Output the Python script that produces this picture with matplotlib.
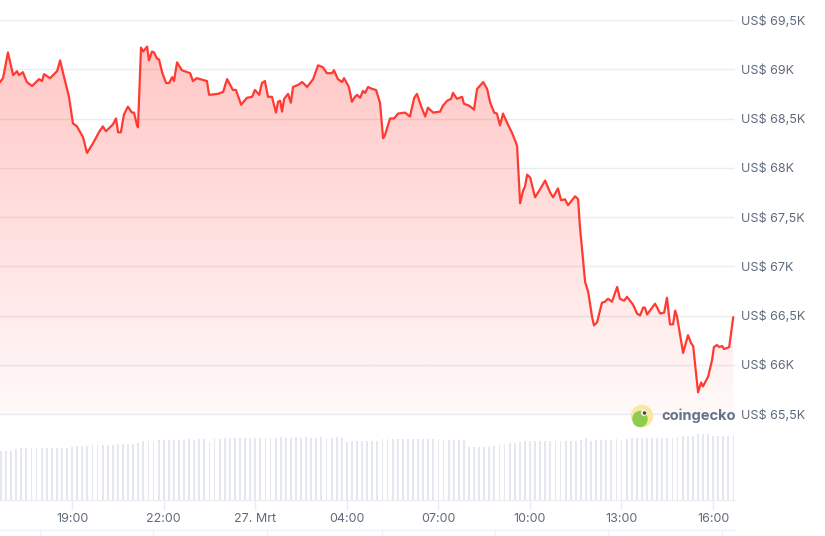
import matplotlib.pyplot as plt
import numpy as np
from matplotlib.patches import Circle, Ellipse, Polygon

plt.rcParams["font.family"] = ["Inter", "DejaVu Sans"]

# price in thousands of USD, time in hours counted from 26 Mar 00:00
hours = [
    16.64, 16.74, 16.90, 17.07, 17.20, 17.26, 17.39, 17.52, 17.69, 17.92,
    18.02, 18.08, 18.28, 18.51, 18.61, 18.70, 18.90, 19.03, 19.16, 19.36,
    19.49, 19.69, 19.88, 20.01, 20.11, 20.34, 20.44, 20.51, 20.60, 20.70,
    20.83, 20.96, 21.03, 21.13, 21.16, 21.26, 21.33, 21.46, 21.52, 21.62,
    21.69, 21.78, 21.85, 21.95, 22.08, 22.18, 22.28, 22.34, 22.44, 22.60,
    22.87, 22.96, 23.09, 23.19, 23.42, 23.49, 23.78, 23.95, 24.08, 24.27,
    24.37, 24.54, 24.73, 24.90, 24.99, 25.13, 25.22, 25.32, 25.42, 25.55,
    25.68, 25.75, 25.82, 25.88, 25.95, 26.08, 26.17, 26.24, 26.40, 26.54,
    26.70, 26.90, 27.06, 27.22, 27.35, 27.52, 27.58, 27.71, 27.85, 27.91,
    28.07, 28.17, 28.27, 28.34, 28.44, 28.53, 28.60, 28.70, 28.83, 28.96,
    29.09, 29.19, 29.25, 29.42, 29.55, 29.68, 29.91, 30.07, 30.21, 30.30,
    30.43, 30.57, 30.66, 30.83, 31.06, 31.15, 31.29, 31.42, 31.48, 31.61,
    31.78, 31.84, 32.01, 32.17, 32.27, 32.47, 32.60, 32.70, 32.83, 32.92,
    33.02, 33.12, 33.25, 33.42, 33.55, 33.58, 33.68, 33.78, 33.84, 33.91,
    34.01, 34.17, 34.33, 34.50, 34.66, 34.76, 34.92, 35.02, 35.15, 35.25,
    35.48, 35.58, 35.64, 35.71, 35.81, 35.91, 36.04, 36.10, 36.20, 36.36,
    36.46, 36.56, 36.69, 36.86, 36.95, 37.09, 37.18, 37.38, 37.51, 37.61,
    37.71, 37.77, 37.84, 38.10, 38.27, 38.40, 38.49, 38.59, 38.69, 38.76,
    38.82, 38.95, 39.02, 39.18, 39.28, 39.35, 39.45, 39.51, 39.61, 39.67,
    39.84, 39.97, 40.03, 40.13, 40.20, 40.30, 40.36, 40.46, 40.53, 40.66,
]
price_k = [
    68.87, 68.91, 69.17, 68.94, 68.98, 68.94, 68.97, 68.87, 68.83, 68.90,
    68.88, 68.95, 68.91, 68.98, 69.09, 68.97, 68.72, 68.45, 68.42, 68.31,
    68.15, 68.25, 68.36, 68.42, 68.37, 68.44, 68.50, 68.36, 68.36, 68.54,
    68.62, 68.56, 68.56, 68.43, 68.41, 69.22, 69.18, 69.23, 69.09, 69.18,
    69.17, 69.11, 69.10, 68.97, 68.86, 68.86, 68.92, 68.88, 69.07, 68.99,
    68.96, 68.88, 68.91, 68.90, 68.88, 68.74, 68.75, 68.77, 68.90, 68.79,
    68.79, 68.64, 68.71, 68.72, 68.79, 68.74, 68.86, 68.88, 68.72, 68.72,
    68.56, 68.67, 68.68, 68.57, 68.70, 68.75, 68.66, 68.82, 68.84, 68.87,
    68.82, 68.90, 69.04, 69.02, 68.96, 68.96, 68.99, 68.90, 68.87, 68.91,
    68.82, 68.67, 68.72, 68.74, 68.71, 68.78, 68.76, 68.82, 68.80, 68.79,
    68.66, 68.30, 68.33, 68.50, 68.50, 68.55, 68.56, 68.52, 68.71, 68.75,
    68.63, 68.52, 68.61, 68.56, 68.57, 68.63, 68.68, 68.70, 68.76, 68.70,
    68.72, 68.65, 68.63, 68.59, 68.80, 68.87, 68.80, 68.66, 68.56, 68.55,
    68.43, 68.55, 68.46, 68.35, 68.25, 68.22, 67.64, 67.77, 67.81, 67.93,
    67.90, 67.70, 67.78, 67.87, 67.75, 67.70, 67.79, 67.67, 67.68, 67.62,
    67.71, 67.68, 67.40, 67.17, 66.84, 66.74, 66.48, 66.40, 66.43, 66.63,
    66.64, 66.67, 66.64, 66.79, 66.67, 66.65, 66.69, 66.61, 66.52, 66.50,
    66.58, 66.58, 66.51, 66.62, 66.52, 66.53, 66.68, 66.41, 66.41, 66.55,
    66.49, 66.25, 66.12, 66.30, 66.22, 66.19, 65.90, 65.72, 65.82, 65.78,
    65.88, 66.05, 66.18, 66.20, 66.18, 66.19, 66.16, 66.17, 66.18, 66.48,
]

# 24h volume in billions of USD, one bar every 10 minutes from 16:40
volume_b = [
    24.5, 24.5, 24.5, 25.5, 26.0, 26.0, 26.0, 26.0, 26.0, 26.0,
    25.8, 26.0, 26.2, 26.2, 26.4, 27.0, 27.0, 27.0, 27.3, 27.7,
    27.7, 27.5, 27.7, 27.8, 28.0, 28.0, 28.2, 28.5, 29.5, 29.5,
    29.7, 30.0, 30.0, 30.0, 29.8, 30.2, 30.0, 30.3, 30.2, 30.5,
    30.5, 29.2, 30.8, 30.7, 30.8, 30.8, 30.8, 31.0, 30.8, 31.0,
    31.2, 31.0, 31.2, 31.0, 31.2, 31.3, 31.0, 31.2, 31.3, 31.2,
    31.3, 31.0, 31.2, 31.3, 31.2, 31.0, 31.3, 31.2, 29.2, 29.5,
    29.5, 29.5, 29.7, 29.5, 29.5, 30.3, 30.5, 30.3, 30.5, 30.5,
    30.5, 30.5, 30.5, 30.5, 30.5, 30.4, 30.5, 29.8, 30.0, 30.0,
    30.0, 30.0, 26.5, 26.5, 26.5, 26.5, 26.5, 27.0, 27.7, 28.0,
    28.3, 28.5, 29.0, 29.5, 29.7, 29.3, 29.7, 29.7, 29.7, 29.7,
    29.7, 29.7, 29.7, 29.7, 30.0, 30.8, 29.5, 30.0, 30.2, 30.2,
    30.2, 30.3, 30.2, 30.5, 30.8, 30.8, 30.8, 30.8, 30.8, 30.8,
    30.8, 31.0, 31.2, 31.7, 31.8, 32.0, 32.0, 32.8, 32.8, 32.8,
    32.0, 32.0, 32.2, 32.0, 32.5,
]

tick_hours = [19, 22, 25, 28, 31, 34, 37, 40]
tick_labels = ["19:00", "22:00", "27. Mrt", "04:00", "07:00", "10:00", "13:00", "16:00"]
price_ticks = [65.5, 66.0, 66.5, 67.0, 67.5, 68.0, 68.5, 69.0, 69.5]

LINE = "#ff3a33"
GRID = "#e9ecf0"
TEXT = "#5f6b7c"
W, H = 825, 536
x_min, x_max = 16.64, 40.72

fig = plt.figure(figsize=(W / 100, H / 100), dpi=100)

# price pane
ax = fig.add_axes([0, (H - 414) / H, 735 / W, 394 / H])
ax.set_xlim(x_min, x_max)
ax.set_ylim(65.5, 69.5)
ax.set_yticks(price_ticks)
ax.set_yticklabels([f"US$ {p:g}K".replace(".", ",") for p in price_ticks])
ax.yaxis.tick_right()
ax.tick_params(axis="y", length=0, pad=4, labelsize=9, labelcolor=TEXT)
ax.set_xticks([])
ax.grid(axis="y", color=GRID, linewidth=1)
ax.set_axisbelow(True)
for s in ax.spines.values():
    s.set_visible(False)
ax.axhline(65.5, color=GRID, linewidth=1, clip_on=False, zorder=2)

# gradient fill under the line
verts = list(zip(hours, price_k)) + [(hours[-1], 65.5), (hours[0], 65.5)]
clip = Polygon(verts, closed=True, facecolor="none", edgecolor="none")
ax.add_patch(clip)
alpha = np.linspace(0.03, 0.30, 256).reshape(-1, 1)
grad = np.zeros((256, 1, 4))
grad[..., 0] = 1.0
grad[..., 1] = 0.23
grad[..., 2] = 0.2
grad[..., 3] = alpha
img = ax.imshow(grad, extent=[x_min, x_max, 65.5, 69.5], origin="lower",
                aspect="auto", zorder=1, interpolation="bilinear")
img.set_clip_path(clip)
ax.plot(hours, price_k, color=LINE, linewidth=1.6, zorder=3, solid_joinstyle="round")

# volume pane
vax = fig.add_axes([0, (H - 500) / H, 735 / W, 80 / H])
bar_hours = x_min + 0.03 + np.arange(len(volume_b)) / 6
vax.bar(bar_hours, volume_b, width=0.06, color="#e4e8ee", linewidth=0)
vax.set_xlim(x_min, x_max)
vax.set_ylim(0, 40)
vax.set_yticks([])
vax.set_xticks(tick_hours)
vax.set_xticklabels(tick_labels)
vax.tick_params(axis="x", length=7, width=1, color=GRID, pad=2,
                labelsize=9, labelcolor=TEXT)
for side in ["top", "left", "right"]:
    vax.spines[side].set_visible(False)
vax.spines["bottom"].set_color(GRID)

# overlay in pixel coordinates for logo and page lines
ov = fig.add_axes([0, 0, 1, 1])
ov.set_xlim(0, W)
ov.set_ylim(H, 0)
ov.axis("off")
ov.patch.set_alpha(0)
ov.add_patch(Circle((642, 416), 10.5, color="#f8e9a1", zorder=5))
ov.add_patch(Ellipse((640, 419), 14, 15, color="#8fcb4f", zorder=6))
ov.add_patch(Circle((644, 413), 2.2, color="white", zorder=7))
ov.add_patch(Circle((644.5, 413), 1.1, color="#4a4a4a", zorder=8))
ov.text(661, 416, "coingecko", fontsize=10.5, fontweight="bold", color="#687286",
        ha="left", va="center", zorder=5)
ov.plot([0, 735], [530, 530], color="#eff1f4", linewidth=1)
for xv in [40, 153, 267, 382, 495, 608, 722]:
    ov.plot([xv, xv], [530, 536], color="#eff1f4", linewidth=1)

fig.savefig("out.png", dpi=100, facecolor="white")
